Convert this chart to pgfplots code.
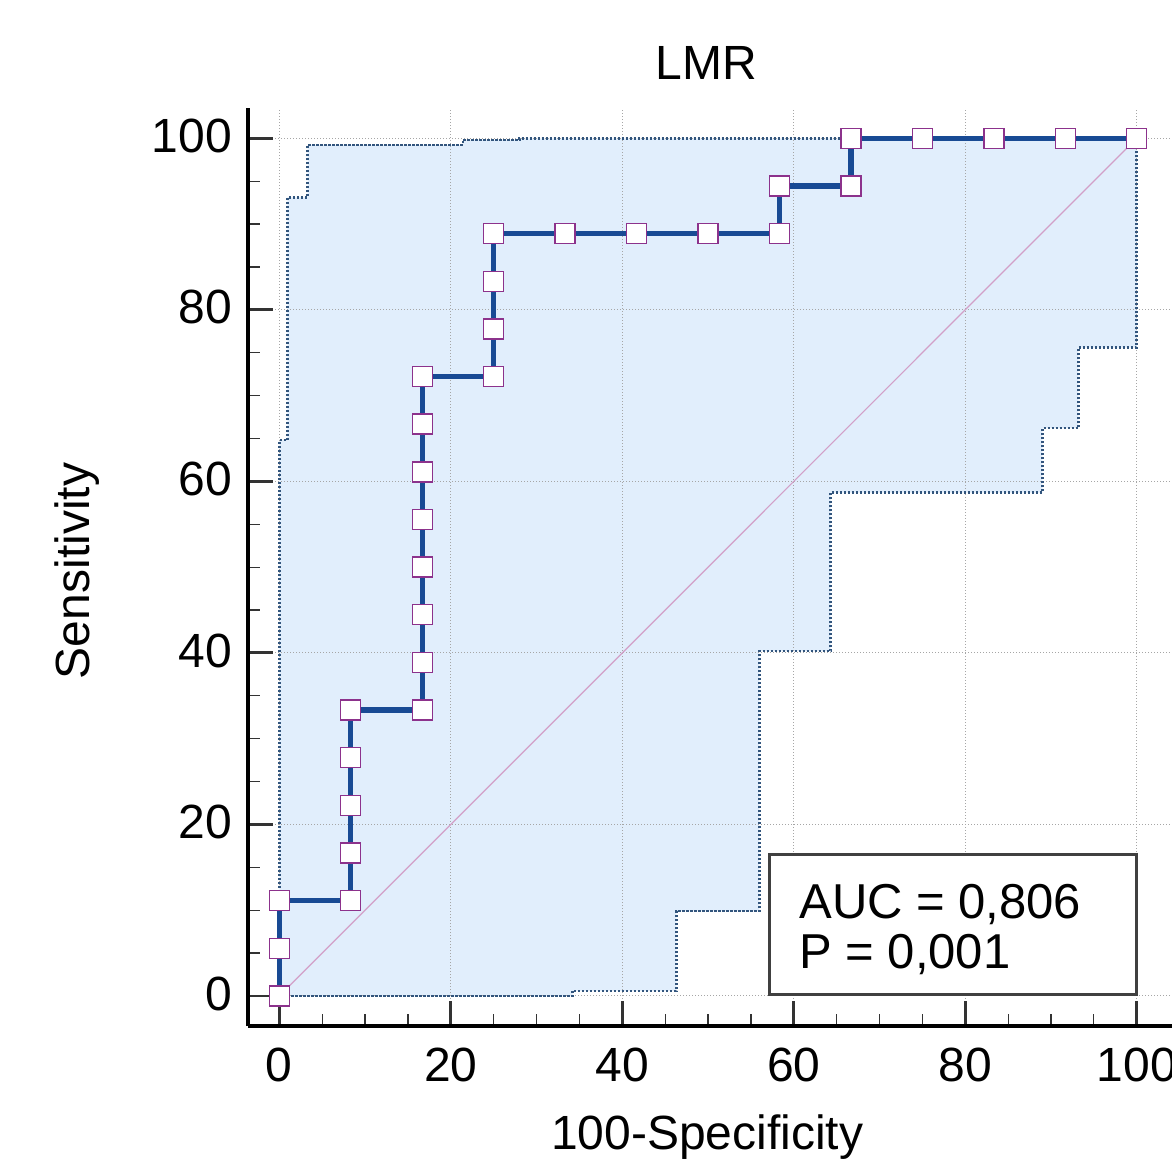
\documentclass[border=0pt]{standalone}
\usepackage{pgfplots}
\pgfplotsset{compat=1.18}
\usepackage{fontspec}
\setmainfont{Liberation Sans}
\definecolor{rocblue}{RGB}{24,74,148}
\definecolor{mkpurple}{RGB}{140,50,140}
\definecolor{bandline}{RGB}{50,85,125}
\definecolor{bandfill}{RGB}{225,238,252}
\definecolor{diagc}{RGB}{210,160,200}
\begin{document}
\begin{tikzpicture}
\begin{axis}[
  name=ax,
  set layers,
  x=4.287pt, y=4.2885pt,
  xmin=-3.62, xmax=105.5, ymin=-3.5, ymax=103.5,
  axis x line*=bottom, axis y line*=left,
  axis line style={-, line width=1.8pt, black},
  xtick={0,20,...,100}, ytick={0,20,...,100},
  minor tick num=3,
  tick align=inside,
  major tick length=12.5pt, minor tick length=6pt,
  major tick style={line width=1.4pt, black!80},
  minor tick style={line width=0.6pt, black!80},
  grid=major,
  major grid style={line width=0.5pt, gray!70, dash pattern=on 0.5pt off 1pt},
  font=\fontsize{24}{28}\selectfont,
  tick label style={font=\fontsize{24}{28}\selectfont},
  /pgf/number format/assume math mode=true,
  yticklabel style={inner sep=0pt, xshift=-8pt, yshift=1.2pt},
  xticklabel style={inner sep=0pt, yshift=-11pt},
  title={LMR},
  title style={at={(axis cs:49.8,105.4)}, anchor=base, inner sep=0pt, font=\fontsize{24}{28}\selectfont},
  xlabel={100-Specificity},
  xlabel style={at={(axis cs:49.9,-17.9)}, anchor=base, inner sep=0pt, font=\fontsize{24}{28}\selectfont},
  ylabel={Sensitivity},
  ylabel style={at={(axis cs:-22.1,49.55)}, anchor=base, inner sep=0pt, font=\fontsize{24}{28}\selectfont},
]
% confidence band fill
\addplot[on layer=axis background, fill=bandfill, draw=none] coordinates {
  (0,0) (0,64.8) (0.95,64.8) (0.95,93.1) (3.3,93.1) (3.3,99.2) (21.4,99.2) (21.4,99.8) (28,99.8) (28,100) (100,100)
  (100,75.6) (93.2,75.6) (93.2,66.2) (89.0,66.2) (89.0,58.7) (64.3,58.7) (64.3,40.2) (56.0,40.2) (56.0,9.9)
  (46.3,9.9) (46.3,0.6) (34.2,0.6) (34.2,0) (0,0)
} -- cycle;
% upper band line
\addplot[bandline, line width=1.3pt, dash pattern=on 1.1pt off 0.9pt] coordinates {
  (0,0) (0,64.8) (0.95,64.8) (0.95,93.1) (3.3,93.1) (3.3,99.2) (21.4,99.2) (21.4,99.8) (28,99.8) (28,100) (100,100)
};
% lower band line
\addplot[bandline, line width=1.3pt, dash pattern=on 1.1pt off 0.9pt] coordinates {
  (0,0) (34.2,0) (34.2,0.6) (46.3,0.6) (46.3,9.9) (56.0,9.9) (56.0,40.2) (64.3,40.2) (64.3,58.7)
  (89.0,58.7) (89.0,66.2) (93.2,66.2) (93.2,75.6) (100,75.6) (100,100)
};
% diagonal
\addplot[diagc, line width=0.6pt] coordinates {(0,0) (100,100)};
% ROC curve
\addplot[rocblue, line width=2.6pt, mark=square*, mark size=5pt,
  mark options={fill=white, draw=mkpurple, line width=0.7pt, solid}] coordinates {
  (0,0) (0,5.556) (0,11.111) (8.333,11.111) (8.333,16.667) (8.333,22.222) (8.333,27.778) (8.333,33.333)
  (16.667,33.333) (16.667,38.889) (16.667,44.444) (16.667,50) (16.667,55.556) (16.667,61.111) (16.667,66.667) (16.667,72.222)
  (25,72.222) (25,77.778) (25,83.333) (25,88.889) (33.333,88.889) (41.667,88.889) (50,88.889) (58.333,88.889)
  (58.333,94.444) (66.667,94.444) (66.667,100) (75,100) (83.333,100) (91.667,100) (100,100)
};
% AUC box
\draw[line width=1.6pt, black!75, fill=white] (axis cs:57.2,0.2) rectangle (axis cs:100,16.5);
\node[anchor=base west, inner sep=0pt, font=\fontsize{24.5}{28}\selectfont] at (axis cs:60.6,9.06) {AUC = 0,806};
\node[anchor=base west, inner sep=0pt, font=\fontsize{24.5}{28}\selectfont] at (axis cs:60.6,3.23) {P = 0,001};
\end{axis}
\pgfresetboundingbox
\useasboundingbox ([shift={(-124.15pt,-68pt)}]ax.south west) rectangle ([shift={(461.85pt,513pt)}]ax.south west);
\end{tikzpicture}
\end{document}
